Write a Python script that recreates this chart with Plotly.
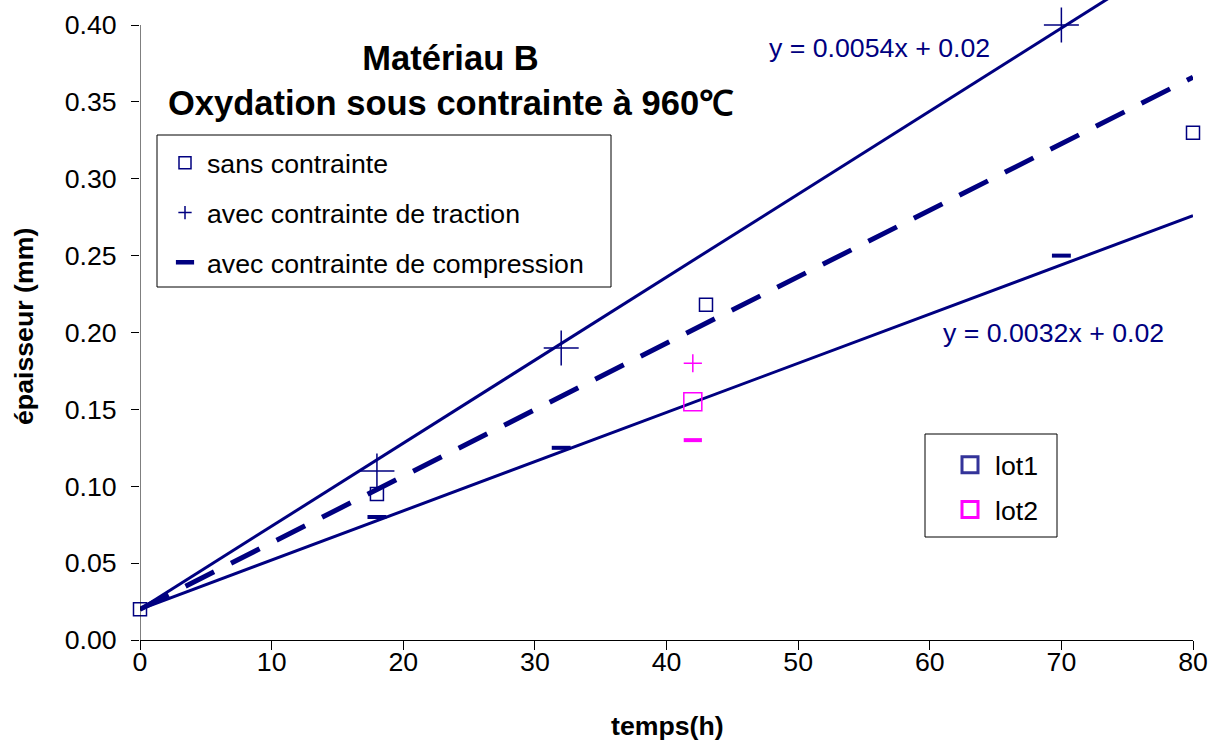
import plotly.graph_objects as go

# ---------------- data ----------------
t_sans_lot1 = [0, 18, 43, 80]
e_sans_lot1 = [0.02, 0.095, 0.218, 0.330]
t_trac_lot1 = [18, 32, 70]
e_trac_lot1 = [0.110, 0.190, 0.400]
t_comp_lot1 = [18, 32, 70]
e_comp_lot1 = [0.080, 0.125, 0.250]

t_lot2 = [42]
e_sans_lot2 = [0.155]
e_trac_lot2 = [0.180]
e_comp_lot2 = [0.130]

trend_x = [0, 80]
trend_trac_y = [0.02, 0.452]   # y = 0.0054x + 0.02
trend_sans_y = [0.02, 0.366]
trend_comp_y = [0.02, 0.276]   # y = 0.0032x + 0.02

x_ticks = [0, 10, 20, 30, 40, 50, 60, 70, 80]
y_ticks = [0.00, 0.05, 0.10, 0.15, 0.20, 0.25, 0.30, 0.35, 0.40]

eq_trac = "y = 0.0054x + 0.02"
eq_comp = "y = 0.0032x + 0.02"
title_lines = ["Matériau B", "Oxydation sous contrainte à 960℃"]
legend_series = ["sans contrainte", "avec contrainte de traction", "avec contrainte de compression"]
legend_lots = ["lot1", "lot2"]

# ---------------- styles ----------------
NAVY = "#000080"
MAG = "#FF00FF"
LOT1 = "#333399"
FONT = "Liberation Sans, Arial, sans-serif"
FS = 26.7

fig = go.Figure()

# trend lines
fig.add_trace(go.Scatter(x=trend_x, y=trend_trac_y, mode="lines",
                         line=dict(color=NAVY, width=3), showlegend=False, hoverinfo="skip"))
fig.add_trace(go.Scatter(x=trend_x, y=trend_sans_y, mode="lines",
                         line=dict(color=NAVY, width=5, dash="32px,19px"), showlegend=False, hoverinfo="skip"))
fig.add_trace(go.Scatter(x=trend_x, y=trend_comp_y, mode="lines",
                         line=dict(color=NAVY, width=3), showlegend=False, hoverinfo="skip"))

# lot 1 points
fig.add_trace(go.Scatter(x=t_sans_lot1, y=e_sans_lot1, mode="markers", showlegend=False, cliponaxis=False,
                         marker=dict(symbol="square-open", size=13, color=NAVY,
                                     line=dict(color=NAVY, width=1.5))))
fig.add_trace(go.Scatter(x=t_trac_lot1, y=e_trac_lot1, mode="markers", showlegend=False, cliponaxis=False,
                         marker=dict(symbol="cross-thin", size=25, color=NAVY,
                                     line=dict(color=NAVY, width=1.5))))
fig.add_trace(go.Scatter(x=t_comp_lot1, y=e_comp_lot1, mode="markers", showlegend=False, cliponaxis=False,
                         marker=dict(symbol="line-ew", size=13.5, color=NAVY,
                                     line=dict(color=NAVY, width=4))))

# lot 2 points
fig.add_trace(go.Scatter(x=t_lot2, y=e_sans_lot2, mode="markers", showlegend=False, cliponaxis=False,
                         marker=dict(symbol="square-open", size=18, color=MAG,
                                     line=dict(color=MAG, width=1.5))))
fig.add_trace(go.Scatter(x=t_lot2, y=e_trac_lot2, mode="markers", showlegend=False, cliponaxis=False,
                         marker=dict(symbol="cross-thin", size=13, color=MAG,
                                     line=dict(color=MAG, width=1.5))))
fig.add_trace(go.Scatter(x=t_lot2, y=e_comp_lot2, mode="markers", showlegend=False, cliponaxis=False,
                         marker=dict(symbol="line-ew", size=13, color=MAG,
                                     line=dict(color=MAG, width=4))))

# legend 1 entries (series type)
leg1_styles = [
    dict(symbol="square-open", size=12, color=NAVY, line=dict(color=NAVY, width=1.5)),
    dict(symbol="cross-thin", size=9.5, color=NAVY, line=dict(color=NAVY, width=1.5)),
    dict(symbol="line-ew", size=13, color=NAVY, line=dict(color=NAVY, width=4.5)),
]
for i, (name, mk) in enumerate(zip(legend_series, leg1_styles)):
    fig.add_trace(go.Scatter(x=[None], y=[None], mode="markers", name=name, marker=mk,
                             legend="legend", legendgroup="g%d" % i))

# legend 2 entries (lots)
for i, (name, col) in enumerate(zip(legend_lots, [LOT1, MAG])):
    fig.add_trace(go.Scatter(x=[None], y=[None], mode="markers", name=name,
                             marker=dict(symbol="square-open", size=16, color=col,
                                         line=dict(color=col, width=3)),
                             legend="legend2", legendgroup="h%d" % i))

W, H = 1218, 742
L, R, T, B = 140, 25, 0, 102
PW, PH = W - L - R, H - T - B
y_top = 0.40 * PH / (PH - 25)


def px(xp):
    return (xp - L) / PW


def py(yp):
    return 1 - (yp - T) / PH


fig.update_layout(
    width=W, height=H,
    margin=dict(l=L, r=R, t=T, b=B),
    paper_bgcolor="white", plot_bgcolor="white",
    font=dict(family=FONT, size=FS, color="black"),
    xaxis=dict(range=[0, 80], tickvals=x_ticks, ticks="outside", ticklen=9, tickcolor="black",
               showline=True, linecolor="black", linewidth=1, showgrid=False, zeroline=False,
               tickfont=dict(size=FS), ticklabelstandoff=-11),
    yaxis=dict(range=[0, y_top], tickvals=y_ticks, tickformat=".2f", ticks="outside", ticklen=8,
               tickcolor="black", showline=False, showgrid=False, zeroline=False,
               tickfont=dict(size=FS), ticklabelstandoff=9),
    legend=dict(x=px(163), y=py(139), xanchor="left", yanchor="top", bgcolor="rgba(0,0,0,0)",
                borderwidth=0, font=dict(size=FS), traceorder="grouped", tracegroupgap=12,
                itemwidth=34),
    legend2=dict(x=px(945), y=py(441), xanchor="left", yanchor="top", bgcolor="rgba(0,0,0,0)",
                 borderwidth=0, font=dict(size=FS), traceorder="grouped", tracegroupgap=7,
                 itemwidth=40),
    showlegend=True,
)

# axis line (left) only up to 0.40, legend frames
fig.add_shape(type="line", xref="x", yref="y", x0=0, x1=0, y0=0, y1=y_ticks[-1],
              line=dict(color="black", width=1))
fig.add_shape(type="rect", xref="paper", yref="paper", x0=px(157), x1=px(611), y0=py(287), y1=py(135),
              line=dict(color="black", width=1), fillcolor="white", layer="below")
fig.add_shape(type="rect", xref="paper", yref="paper", x0=px(925), x1=px(1057), y0=py(537), y1=py(434),
              line=dict(color="black", width=1), fillcolor="white", layer="below")

# title
fig.add_annotation(xref="paper", yref="paper", x=px(451), y=py(80), xanchor="center", yanchor="middle",
                   text="<b>" + "<br>".join(title_lines) + "</b>", showarrow=False,
                   font=dict(size=34.5, family=FONT, color="black"), align="center")

# equations
fig.add_annotation(xref="x", yref="y", x=56.2, y=0.385, text=eq_trac, showarrow=False,
                   font=dict(size=FS, color=NAVY), xanchor="center", yanchor="middle")
fig.add_annotation(xref="x", yref="y", x=69.4, y=0.1995, text=eq_comp, showarrow=False,
                   font=dict(size=FS, color=NAVY), xanchor="center", yanchor="middle")

# axis titles
fig.add_annotation(xref="paper", yref="paper", x=px(667), y=py(726), text="<b>temps(h)</b>",
                   showarrow=False, font=dict(size=FS), xanchor="center", yanchor="middle")
fig.add_annotation(xref="paper", yref="paper", x=px(24), y=py(327), text="<b>épaisseur (mm)</b>",
                   showarrow=False, font=dict(size=FS), textangle=-90, xanchor="center", yanchor="middle")

fig.write_html("out.html", config={"displayModeBar": False},
               post_script="document.body.style.margin='0';document.body.style.overflow='hidden';")
